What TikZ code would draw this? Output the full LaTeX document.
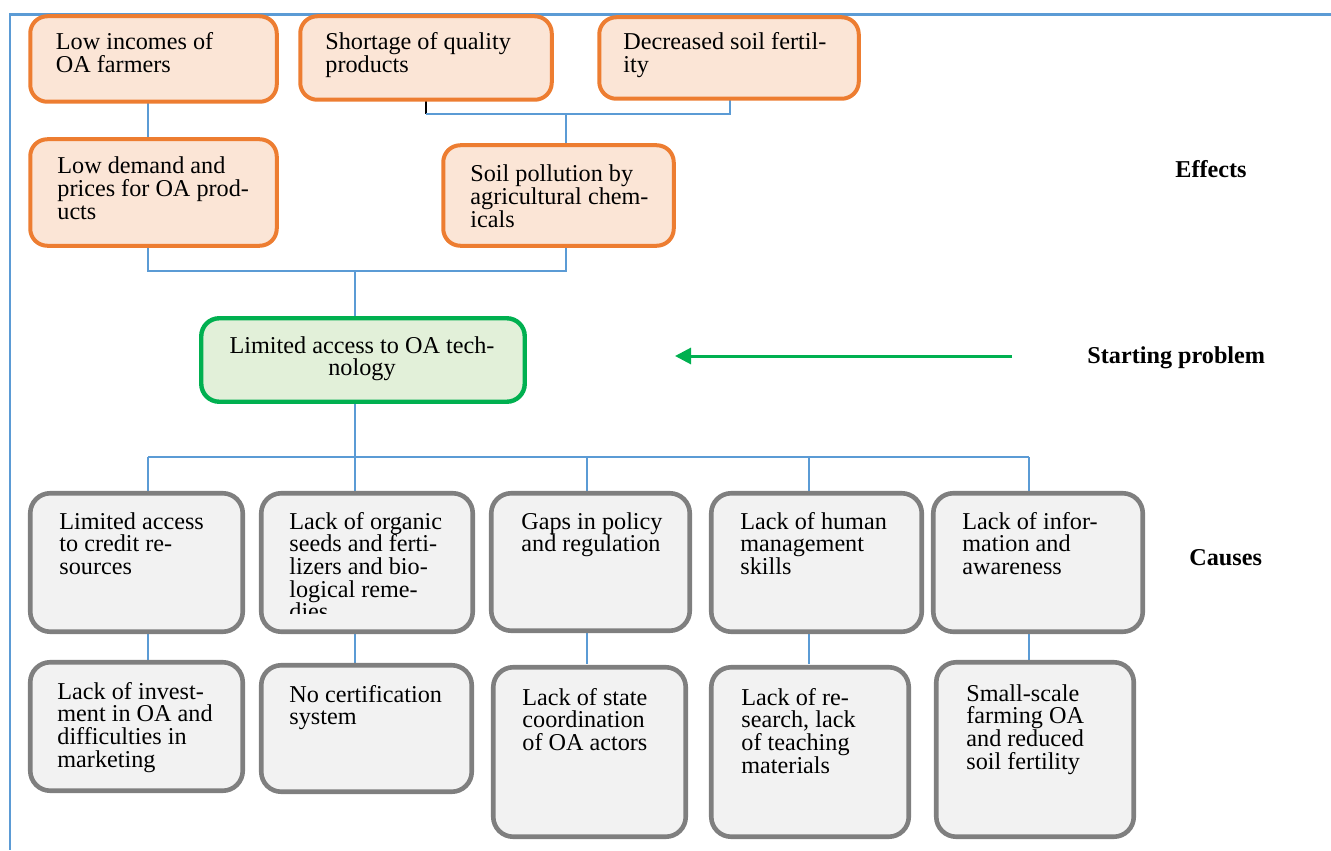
\documentclass[tikz,border=0pt]{standalone}
\usepackage{fontspec}
\setmainfont{Liberation Serif}
\usetikzlibrary{arrows.meta}

\definecolor{lineblue}{HTML}{5B9BD5}
\definecolor{effdraw}{HTML}{ED7D31}
\definecolor{efffill}{HTML}{FBE5D6}
\definecolor{probdraw}{HTML}{00B050}
\definecolor{probfill}{HTML}{E2F0D9}
\definecolor{causedraw}{HTML}{7F7F7F}
\definecolor{causefill}{HTML}{F2F2F2}

% multi-line text whose baseline is the first line's baseline
\newcommand\ml[1]{\vtop{\halign{##\hfil\cr#1\crcr}}}
\newcommand\mlc[1]{\vtop{\halign{\hfil##\hfil\cr#1\crcr}}}

% box from its outer edges: name, style, left, top, right, bottom
\newcommand\bx[6]{\node[#2, minimum width={(#5-#3-4.5)*0.5pt},
  minimum height={(#6-#4-4.5)*0.5pt}] (#1) at ({(#3+#5)/2},{(#4+#6)/2}) {};}

\tikzset{
  boxbase/.style={rectangle, inner sep=0pt, outer sep=0pt},
  effbox/.style={boxbase, draw=effdraw, fill=efffill, line width=2pt, rounded corners=8.5pt},
  probbox/.style={boxbase, draw=probdraw, fill=probfill, line width=2.2pt, rounded corners=9pt},
  causebox/.style={boxbase, draw=causedraw, fill=causefill, line width=2.3pt, rounded corners=10pt},
  txt/.style={inner sep=0pt, anchor=base west, font=\fontsize{12.1}{11.35}\selectfont},
  tag/.style={inner sep=0pt, anchor=base west, font=\fontsize{12.1}{11.35}\selectfont\bfseries},
  conn/.style={draw=lineblue, line width=0.7pt},
  framel/.style={draw=lineblue, line width=1.1pt},
}

\begin{document}
\begin{tikzpicture}[x=0.5pt, y=-0.5pt]
\useasboundingbox (0,0) rectangle (1331,850);

% page frame
\coordinate (fr0) at (9,14.5);
\coordinate (fr1) at (1331,14.5);
\coordinate (fr2) at (10,14.5);
\coordinate (fr3) at (10,850);
\draw[framel] (fr0) -- (fr1);
\draw[framel] (fr2) -- (fr3);

% junction points of the connector buses
\coordinate (ft) at (426,114);
\coordinate (fr) at (730,114);
\coordinate (fm) at (566,114);
\coordinate (el) at (148,271);
\coordinate (em) at (355,271);
\coordinate (er) at (566,271);
\coordinate (k1) at (148,457);
\coordinate (k2) at (355,457);
\coordinate (k3) at (587,457);
\coordinate (k4) at (809,457);
\coordinate (k5) at (1029,457);

% connectors (drawn beneath the boxes)
\draw[black, line width=0.7pt] (ft |- 0,100) -- (ft);
\draw[conn] (ft) -- (fr) -- (fr |- 0,100);
\draw[conn] (fm) -- (fm |- 0,146);
\draw[conn] (el |- 0,102) -- (el |- 0,140);
\draw[conn] (el |- 0,246) -- (el) -- (er) -- (er |- 0,246);
\draw[conn] (em) -- (em |- 0,320);
\draw[conn] (k2 |- 0,400) -- (k2);
\draw[conn] (k1) -- (k5);
\foreach \k in {k1,k2,k3,k4,k5}{
  \draw[conn] (\k) -- (\k |- 0,494);
  \draw[conn] (\k |- 0,630) -- (\k |- 0,664);
}

% effects
\bx{b1}{effbox}{28}{14}{279}{104}
\bx{b2}{effbox}{298}{14}{554}{102}
\bx{b3}{effbox}{597}{15}{861}{101}
\bx{b4}{effbox}{28}{137}{279}{248}
\bx{b5}{effbox}{441}{143}{676}{248}
\node[txt] (tb1) at (55.5,50) {\ml{Low incomes of\cr OA farmers}};
\node[txt] (tb2) at (325,50) {\ml{Shortage of quality\cr products}};
\node[txt] (tb3) at (623,50) {\ml{Decreased soil fertil-\cr ity}};
\node[txt] (tb4) at (57,174) {\ml{Low demand and\cr prices for OA prod-\cr ucts}};
\node[txt] (tb5) at (470,182) {\ml{Soil pollution by\cr agricultural chem-\cr icals}};

% starting problem
\bx{g}{probbox}{199}{316}{527}{404}
\node[txt, anchor=base] (tg) at (362,353) {\mlc{Limited access to OA tech-\cr nology}};

% causes, first row
\bx{c1}{causebox}{28}{491}{245}{634}
\bx{c2}{causebox}{259}{491}{475}{634}
\bx{c3}{causebox}{489}{491}{692}{633}
\bx{c4}{causebox}{709}{491}{924}{634}
\bx{c5}{causebox}{931}{491}{1145}{634}
\node[txt] (tc1) at (59,529) {\ml{Limited access\cr to credit re-\cr sources}};
\begin{scope}
  \clip (262,494) rectangle (472,613);
  \node[txt] (tc2) at (289,529) {\ml{Lack of organic\cr seeds and ferti-\cr lizers and bio-\cr logical reme-\cr dies}};
\end{scope}
\node[txt] (tc3) at (521,529) {\ml{Gaps in policy\cr and regulation}};
\node[txt] (tc4) at (740,529) {\ml{Lack of human\cr management\cr skills}};
\node[txt] (tc5) at (962,529) {\ml{Lack of infor-\cr mation and\cr awareness}};

% causes, second row
\bx{d1}{causebox}{28}{660}{245}{793}
\bx{d2}{causebox}{259}{663}{474}{794}
\bx{d3}{causebox}{491}{665}{688}{839}
\bx{d4}{causebox}{709}{665}{911}{839}
\bx{d5}{causebox}{934}{660}{1136}{839}
\node[txt] (td1) at (57,699) {\ml{Lack of invest-\cr ment in OA and\cr difficulties in\cr marketing}};
\node[txt] (td2) at (289,702) {\ml{No certification\cr system}};
\node[txt] (td3) at (522,705) {\ml{Lack of state\cr coordination\cr of OA actors}};
\node[txt] (td4) at (741,705) {\ml{Lack of re-\cr search, lack\cr of teaching\cr materials}};
\node[txt] (td5) at (966,701) {\ml{Small-scale\cr farming OA\cr and reduced\cr soil fertility}};

% level labels and pointer
\node[tag] (leff) at (1175,178) {Effects};
\node[tag] (lsp) at (1087,363) {Starting problem};
\node[tag] (lcau) at (1189,565) {Causes};
\coordinate (ar0) at (1012,356);
\coordinate (ar1) at (675,356);
\draw[draw=probdraw, line width=1.5pt, -{Triangle[length=8pt,width=8pt]}] (ar0) -- (ar1);
\end{tikzpicture}
\end{document}
